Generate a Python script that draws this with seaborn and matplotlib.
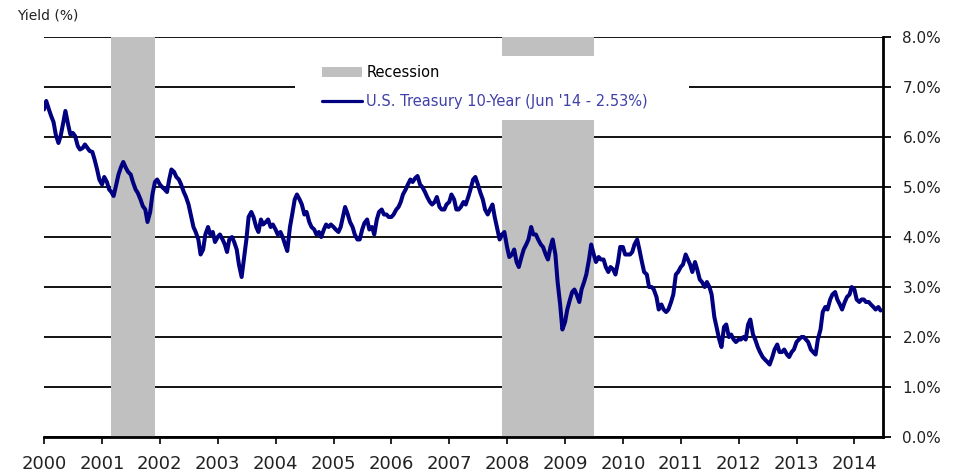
import pandas as pd
import numpy as np
import matplotlib
matplotlib.use("Agg")
import matplotlib.pyplot as plt
import matplotlib.dates as mdates
from matplotlib.patches import Patch, Rectangle
from matplotlib.lines import Line2D
from matplotlib.ticker import FuncFormatter
import seaborn as sns

# 10-year Treasury yield (%), read twice a month (1st and 15th) off the chart
y2000 = [6.55, 6.72, 6.55, 6.42, 6.30, 6.05, 5.88, 6.02, 6.28, 6.52, 6.25, 6.05,
         6.08, 6.02, 5.82, 5.75, 5.78, 5.85, 5.78, 5.72, 5.70, 5.55, 5.35, 5.15]
y2001 = [5.05, 5.20, 5.10, 4.95, 4.90, 4.82, 5.05, 5.25, 5.40, 5.50, 5.38, 5.30,
         5.25, 5.10, 4.95, 4.88, 4.75, 4.62, 4.55, 4.30, 4.50, 4.85, 5.10, 5.15]
y2002 = [5.05, 5.00, 4.95, 4.90, 5.15, 5.35, 5.30, 5.20, 5.15, 5.05, 4.90, 4.80,
         4.65, 4.45, 4.20, 4.10, 3.95, 3.65, 3.75, 4.05, 4.20, 4.05, 4.10, 3.90]
y2003 = [4.00, 4.05, 3.95, 3.85, 3.70, 3.95, 4.00, 3.90, 3.75, 3.45, 3.20, 3.55,
         3.95, 4.40, 4.50, 4.40, 4.20, 4.10, 4.35, 4.25, 4.30, 4.35, 4.20, 4.25]
y2004 = [4.15, 4.05, 4.10, 4.00, 3.85, 3.72, 4.20, 4.45, 4.75, 4.85, 4.75, 4.65,
         4.45, 4.50, 4.30, 4.20, 4.15, 4.05, 4.10, 4.00, 4.15, 4.25, 4.20, 4.25]
y2005 = [4.20, 4.15, 4.10, 4.20, 4.40, 4.60, 4.45, 4.30, 4.20, 4.05, 3.95, 3.95,
         4.15, 4.28, 4.35, 4.15, 4.20, 4.05, 4.35, 4.50, 4.55, 4.45, 4.45, 4.40]
y2006 = [4.40, 4.45, 4.55, 4.60, 4.70, 4.85, 4.95, 5.05, 5.15, 5.10, 5.18, 5.22,
         5.05, 5.00, 4.90, 4.80, 4.70, 4.65, 4.70, 4.80, 4.60, 4.55, 4.55, 4.65]
y2007 = [4.70, 4.85, 4.75, 4.55, 4.55, 4.60, 4.70, 4.65, 4.80, 4.95, 5.15, 5.20,
         5.05, 4.90, 4.75, 4.55, 4.45, 4.55, 4.65, 4.40, 4.15, 3.95, 4.05, 4.10]
y2008 = [3.80, 3.60, 3.65, 3.75, 3.50, 3.40, 3.60, 3.75, 3.85, 3.95, 4.20, 4.05,
         4.05, 3.95, 3.85, 3.80, 3.65, 3.55, 3.80, 3.95, 3.65, 3.10, 2.65, 2.15]
y2009 = [2.30, 2.55, 2.75, 2.90, 2.95, 2.85, 2.70, 2.95, 3.10, 3.25, 3.55, 3.85,
         3.65, 3.50, 3.60, 3.55, 3.55, 3.40, 3.30, 3.40, 3.35, 3.25, 3.50, 3.80]
y2010 = [3.80, 3.65, 3.65, 3.65, 3.70, 3.85, 3.95, 3.75, 3.50, 3.30, 3.25, 3.00,
         3.00, 2.95, 2.80, 2.55, 2.65, 2.55, 2.50, 2.55, 2.70, 2.85, 3.25, 3.30]
y2011 = [3.40, 3.45, 3.65, 3.55, 3.45, 3.30, 3.50, 3.35, 3.15, 3.10, 3.00, 3.10,
         3.00, 2.85, 2.40, 2.20, 1.95, 1.80, 2.20, 2.25, 2.00, 2.05, 1.95, 1.90]
y2012 = [1.95, 1.95, 2.00, 1.95, 2.25, 2.35, 2.05, 1.95, 1.80, 1.70, 1.60, 1.55,
         1.50, 1.45, 1.60, 1.75, 1.85, 1.70, 1.70, 1.75, 1.65, 1.60, 1.70, 1.75]
y2013 = [1.90, 1.95, 2.00, 2.00, 1.95, 1.90, 1.75, 1.70, 1.65, 1.95, 2.15, 2.50,
         2.60, 2.55, 2.75, 2.85, 2.90, 2.75, 2.65, 2.55, 2.70, 2.80, 2.85, 3.00]
y2014 = [2.95, 2.75, 2.70, 2.75, 2.75, 2.70, 2.70, 2.65, 2.60, 2.55, 2.60, 2.53]

recession_starts = ["2001-03-01", "2007-12-01"]
recession_ends = ["2001-11-30", "2009-06-30"]
year_ticks = list(range(2000, 2015))
y_ticks = [0, 1, 2, 3, 4, 5, 6, 7, 8]

line_label = "U.S. Treasury 10-Year (Jun '14 - 2.53%)"
NAVY = "#000080"
GREY = "#c0c0c0"

yields = (y2000 + y2001 + y2002 + y2003 + y2004 + y2005 + y2006 + y2007
          + y2008 + y2009 + y2010 + y2011 + y2012 + y2013 + y2014)
df = pd.DataFrame({
    "date": pd.date_range("2000-01-01", periods=len(yields), freq="SMS"),
    "yield": yields,
})

sns.set_style("white")
plt.rcParams["font.family"] = ["DejaVu Sans"]

fig = plt.figure(figsize=(9.59, 4.74), dpi=100)
ax = fig.add_axes([0.0459, 0.078, 0.8748, 0.844])

for s, e in zip(recession_starts, recession_ends):
    ax.axvspan(pd.Timestamp(s), pd.Timestamp(e), color=GREY, lw=0, zorder=1)

# white block behind the legend (hides grid and bar top)
ax.add_patch(Rectangle((0.299, 0.7925), 0.47, 0.16, transform=ax.transAxes,
                       facecolor="white", edgecolor="none", zorder=2))

sns.lineplot(data=df, x="date", y="yield", ax=ax, color=NAVY, lw=2.9,
             zorder=3, legend=False)

ax.set_xlim(pd.Timestamp("2000-01-01"), pd.Timestamp("2014-06-30"))
ax.set_ylim(0, 8)
ax.set_xticks([pd.Timestamp(f"{y}-01-01") for y in year_ticks])
ax.xaxis.set_major_formatter(mdates.DateFormatter("%Y"))
ax.set_yticks(y_ticks)
ax.yaxis.set_major_formatter(FuncFormatter(lambda v, p: f"{v:.1f}%"))
ax.yaxis.tick_right()
ax.set_xlabel("")
ax.set_ylabel("")

ax.set_axisbelow(True)
ax.yaxis.grid(True, color="black", lw=1.3)
ax.xaxis.grid(False)

for side in ["top", "left"]:
    ax.spines[side].set_visible(False)
for side in ["bottom", "right"]:
    ax.spines[side].set_color("black")
    ax.spines[side].set_linewidth(2)

ax.tick_params(axis="x", direction="out", length=5, width=1.2, colors="black",
               labelsize=13, pad=8, bottom=True)
ax.tick_params(axis="y", direction="out", length=6, width=1.3, colors="black",
               labelsize=11, pad=8, right=True, left=False)
for t in ax.get_xticklabels() + ax.get_yticklabels():
    t.set_color("#222222")

fig.text(0.018, 0.968, "Yield (%)", fontsize=10, color="#222222",
         ha="left", va="center")

handles = [Patch(facecolor=GREY, edgecolor="none"),
           Line2D([], [], color=NAVY, lw=2.3)]
leg = ax.legend(handles, ["Recession", line_label], loc="upper left",
                bbox_to_anchor=(0.331, 0.93), borderaxespad=0, borderpad=0,
                frameon=False, fontsize=10.5, handlelength=2.75,
                handletextpad=0.3, labelspacing=0.95)
leg.set_zorder(4)
leg.get_texts()[0].set_color("black")
leg.get_texts()[1].set_color("#4040a8")

fig.savefig("out.png", dpi=100)
